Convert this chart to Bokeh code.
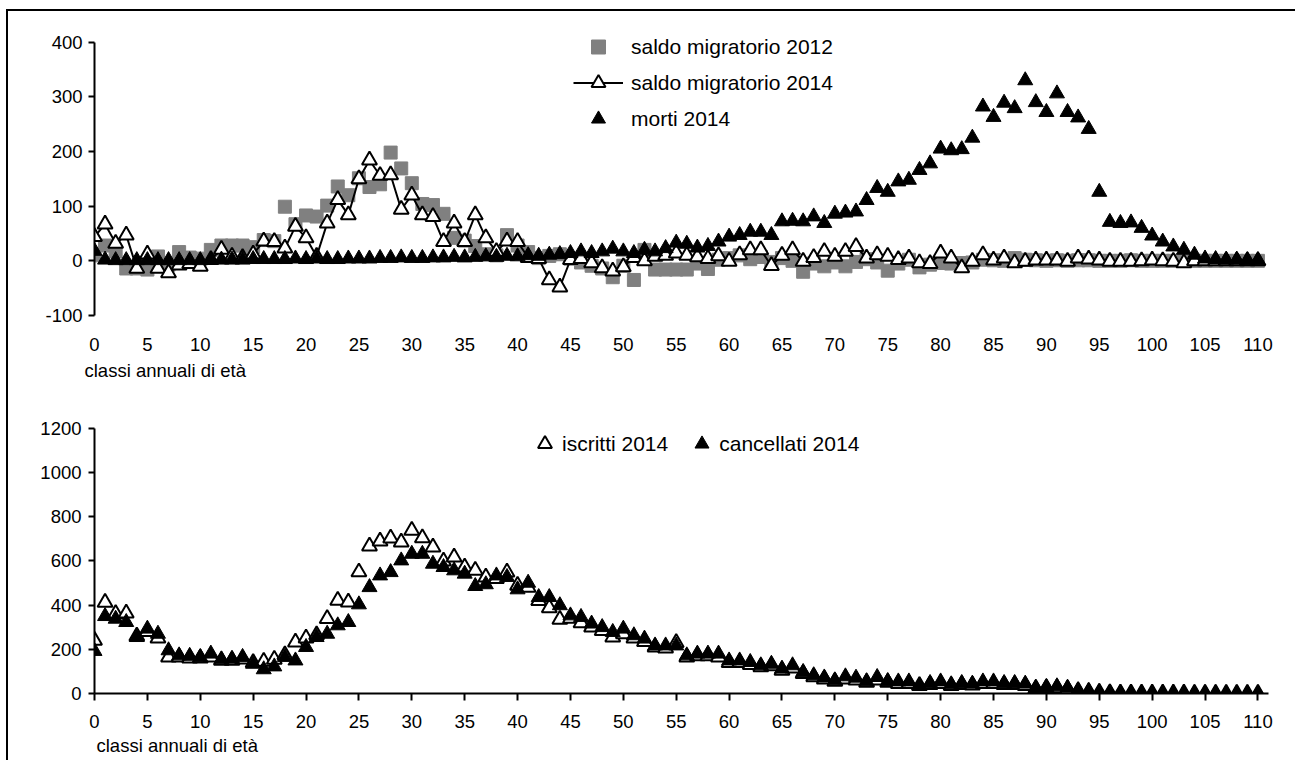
from bokeh.plotting import figure
from bokeh.layouts import column
from bokeh.models import (Range1d, FixedTicker, Legend, LegendItem, Title,
                          ColumnDataSource)
from bokeh.embed import file_html
from bokeh.resources import INLINE

# ---------------- data ----------------
ages = list(range(0, 111))

saldo_2012 = [10, 28, 17, -14, -14, -16, 8, -7, 16, 6,
              4, 20, 28, 28, 28, 25, 38, 36, 99, 67,
              83, 81, 101, 136, 120, 151, 135, 140, 198, 169,
              142, 104, 102, 86, 42, 37, 27, 12, 10, 47,
              28, 16, 5, 9, 12, 4, -3, -9, -14, -30,
              -9, -35, 20, -16, -16, -16, -16, -5, -15, 2,
              5, 10, 3, 7, -2, 5, 0, -20, -5, -10,
              -3, -10, -2, 3, -3, -18, -5, 2, -12, -7,
              -4, -5, -4, -3, 2, 1, 0, 5, 2, 1,
              0, 1, 0, 1, 1, 0, 0, 0, 1, 0,
              0, 0, 0, 0, 0, 0, 0, 0, 0, 0, 0]

saldo_2014 = [44, 67, 32, 47, -14, 12, -14, -22, -8, -5,
              -10, 2, 21, 8, 6, 12, 36, 35, 23, 63,
              42, 8, 69, 112, 84, 150, 184, 156, 157, 94,
              120, 84, 81, 35, 69, 35, 84, 42, 17, 36,
              35, 6, 4, -35, -48, 2, 4, -4, -13, -19,
              -11, 6, 0, 8, 10, 14, 10, 7, 4, 9,
              -1, 11, 20, 20, -9, 10, 20, -1, 6, 17,
              8, 17, 26, 5, 11, 8, 2, 5, -4, -5,
              14, 5, -13, -1, 11, 1, 5, -4, -1, 1,
              1, 1, -1, 5, 3, 1, -1, -1, -1, 0,
              1, 0, -1, -4, 0, 0, 0, 0, 0, 0, 0]

morti_2014 = [18, 2, 1, 1, 1, 1, 1, 1, 1, 1,
              1, 2, 2, 2, 2, 3, 3, 3, 3, 4,
              3, 4, 3, 3, 4, 4, 4, 5, 5, 6,
              5, 5, 6, 6, 7, 6, 7, 8, 7, 9,
              8, 10, 9, 11, 12, 14, 17, 14, 17, 22,
              17, 14, 20, 17, 23, 33, 31, 24, 27, 35,
              44, 47, 53, 53, 47, 72, 73, 72, 81, 69,
              86, 88, 90, 111, 133, 126, 145, 148, 166, 178,
              205, 202, 204, 225, 282, 263, 289, 279, 330, 290,
              272, 306, 272, 262, 241, 126, 71, 69, 70, 60,
              46, 35, 26, 20, 11, 4, 3, 2, 2, 1, 1]

iscritti_2014 = [240, 412, 362, 364, 260, 280, 250, 165, 165, 160,
                 160, 165, 150, 150, 155, 140, 145, 154, 175, 232,
                 251, 265, 339, 421, 414, 550, 667, 690, 703, 685,
                 738, 704, 663, 599, 617, 572, 557, 527, 520, 549,
                 489, 480, 420, 388, 335, 340, 320, 300, 285, 255,
                 270, 250, 235, 210, 205, 230, 165, 170, 170, 165,
                 140, 140, 130, 120, 125, 105, 115, 90, 75, 65,
                 55, 65, 60, 50, 60, 50, 45, 45, 35, 40,
                 45, 35, 40, 38, 45, 45, 40, 40, 35, 22,
                 25, 25, 20, 12, 8, 5, 3, 2, 2, 1,
                 1, 1, 1, 1, 0, 0, 0, 0, 0, 0, 0]

cancellati_2014 = [192, 350, 338, 323, 255, 293, 270, 195, 172, 170,
                   165, 180, 154, 157, 165, 134, 109, 122, 165, 149,
                   210, 255, 270, 308, 323, 403, 481, 534, 549, 602,
                   632, 632, 587, 572, 557, 542, 486, 494, 534, 527,
                   471, 501, 436, 436, 399, 353, 346, 316, 300, 278,
                   293, 263, 248, 217, 217, 217, 172, 180, 180, 180,
                   149, 149, 142, 127, 134, 112, 127, 97, 82, 72,
                   59, 77, 71, 55, 74, 56, 54, 54, 36, 47,
                   54, 41, 47, 44, 54, 54, 47, 47, 44, 26,
                   29, 32, 26, 14, 11, 6, 4, 3, 2, 2,
                   1, 1, 1, 1, 1, 1, 1, 0, 0, 0, 0]

x_ticks = list(range(0, 111, 5))
top_y_ticks = [-100, 0, 100, 200, 300, 400]
bottom_y_ticks = [0, 200, 400, 600, 800, 1000, 1200]
x_title = "classi annuali di età"
top_labels = ["saldo migratorio 2012", "saldo migratorio 2014", "morti 2014"]
bottom_labels = ["iscritti 2014", "cancellati 2014"]

FONT = "Liberation Sans"
TICK_SIZE = "18.5px"
LEGEND_SIZE = "21px"
GREY = "#808080"
TRI = 15

src_top = ColumnDataSource(dict(age=ages, s12=saldo_2012, s14=saldo_2014, morti=morti_2014))
src_bot = ColumnDataSource(dict(age=ages, isc=iscritti_2014, canc=cancellati_2014))


def style_common(p):
    p.xgrid.visible = False
    p.ygrid.visible = False
    p.outline_line_color = None
    p.background_fill_color = "white"
    p.border_fill_color = "white"
    for ax in (p.xaxis[0], p.yaxis[0]):
        ax.major_label_text_font = FONT
        ax.major_label_text_font_size = TICK_SIZE
        ax.major_label_text_color = "black"
        ax.minor_tick_line_color = None
        ax.axis_line_color = "black"
        ax.axis_line_width = 2
        ax.major_tick_line_color = "black"
        ax.major_tick_line_width = 2
        ax.major_tick_in = 0


def add_x_title(p, offset, standoff):
    p.add_layout(Title(text=x_title, align="left", offset=offset, standoff=standoff,
                       text_font=FONT, text_font_size=TICK_SIZE,
                       text_font_style="normal", text_color="black"), "below")


# ---------------- top chart ----------------
p1 = figure(width=1287, height=379, x_range=Range1d(0, 111), y_range=Range1d(-100, 439.6),
            output_backend="svg", toolbar_location=None,
            min_border_left=82, min_border_right=27, min_border_top=9, min_border_bottom=75)
style_common(p1)
p1.xaxis.ticker = FixedTicker(ticks=x_ticks)
p1.xaxis.axis_line_color = None
p1.xaxis.major_tick_line_color = None
p1.xaxis.major_tick_out = 0
p1.xaxis.major_label_standoff = 22
p1.yaxis.ticker = FixedTicker(ticks=top_y_ticks)
p1.yaxis.bounds = (-100, 400)
p1.yaxis.major_tick_out = 6
p1.yaxis.major_label_standoff = 6
p1.yaxis.major_label_overrides = {-100: "-100"}

r12 = p1.scatter("age", "s12", source=src_top, marker="square", size=13,
                 fill_color=GREY, line_color=GREY)
rline = p1.line("age", "s14", source=src_top, line_color="black", line_width=2)
r14 = p1.scatter("age", "s14", source=src_top, marker="triangle", size=TRI,
                 fill_color="white", line_color="black", line_width=2)
rm = p1.scatter("age", "morti", source=src_top, marker="triangle", size=TRI,
                fill_color="black", line_color="black")

leg1 = Legend(items=[LegendItem(label=top_labels[0], renderers=[r12]),
                     LegendItem(label=top_labels[1], renderers=[rline, r14]),
                     LegendItem(label=top_labels[2], renderers=[rm])],
              location=(479, 179), glyph_width=50, glyph_height=35, label_height=35,
              spacing=1, padding=0, margin=0, label_standoff=8,
              border_line_color=None, background_fill_alpha=0,
              label_text_font=FONT, label_text_font_size=LEGEND_SIZE,
              label_text_color="black")
p1.add_layout(leg1)
add_x_title(p1, -10, 8)

# ---------------- bottom chart ----------------
p2 = figure(width=1287, height=370, x_range=Range1d(0, 111), y_range=Range1d(0, 1236.2),
            output_backend="svg", toolbar_location=None,
            min_border_left=86, min_border_right=26, min_border_top=30, min_border_bottom=67)
style_common(p2)
p2.xaxis.ticker = FixedTicker(ticks=x_ticks)
p2.xaxis.major_tick_out = 7
p2.xaxis.major_label_standoff = 14
p2.yaxis.ticker = FixedTicker(ticks=bottom_y_ticks)
p2.yaxis.bounds = (0, 1200)
p2.yaxis.major_tick_out = 6
p2.yaxis.major_label_standoff = 7

ri = p2.scatter("age", "isc", source=src_bot, marker="triangle", size=TRI,
                fill_color="white", line_color="black", line_width=2)
rc = p2.scatter("age", "canc", source=src_bot, marker="triangle", size=TRI,
                fill_color="black", line_color="black")

leg2 = Legend(items=[LegendItem(label=bottom_labels[0], renderers=[ri]),
                     LegendItem(label=bottom_labels[1], renderers=[rc])],
              orientation="horizontal", location=(433, 232),
              glyph_width=35, glyph_height=35, label_height=35,
              spacing=16, padding=0, margin=0, label_standoff=0,
              border_line_color=None, background_fill_alpha=0,
              label_text_font=FONT, label_text_font_size=LEGEND_SIZE,
              label_text_color="black")
p2.add_layout(leg2)
add_x_title(p2, 2, 4)

layout = column(p1, p2, spacing=0,
                styles={"margin-left": "6px", "margin-top": "9px",
                        "border-left": "2px solid black", "border-top": "2px solid black"})

with open("out.html", "w") as f:
    f.write(file_html(layout, INLINE))
